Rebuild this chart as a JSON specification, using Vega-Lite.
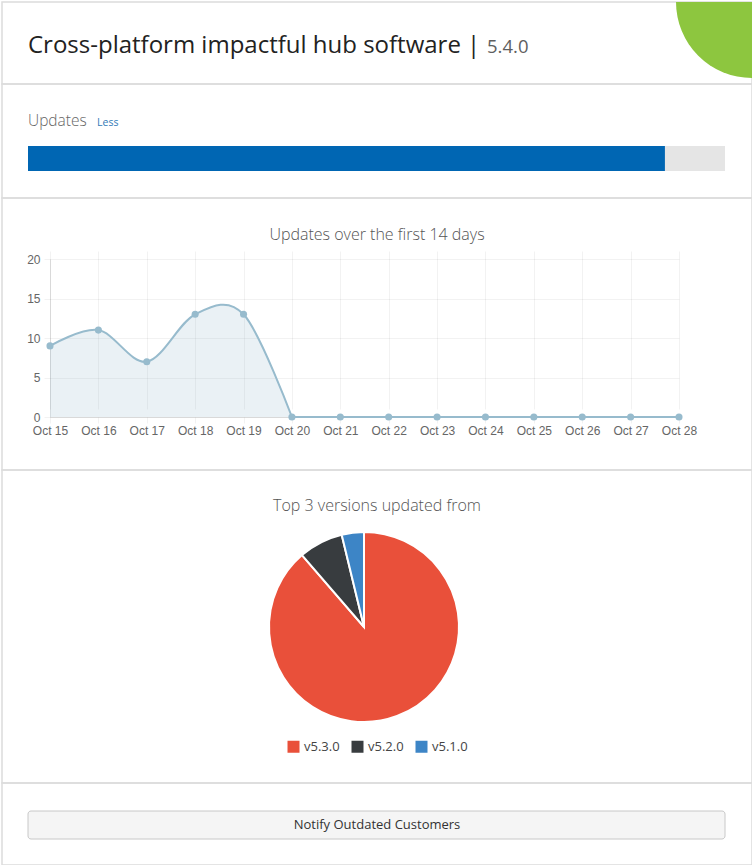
{
  "$schema": "https://vega.github.io/schema/vega-lite/v6.json",
  "padding": 1,
  "spacing": 0,
  "bounds": "flush",
  "background": "white",
  "resolve": {"scale": {"color": "independent"}, "legend": {"color": "independent"}},
  "vconcat": [
    {
      "width": 750,
      "height": 82,
      "view": {"stroke": "#dcdcdc", "strokeWidth": 1.5},
      "data": {"values": [{"product": "Cross-platform impactful hub software |", "version": "5.4.0"}]},
      "layer": [
        {
          "mark": {"type": "arc", "radius": 76, "theta": 0, "theta2": 6.2832, "color": "#8dc63f", "x": {"expr": "width"}, "y": 0, "clip": true},
          "encoding": {}
        },
        {
          "mark": {"type": "text", "x": 26, "y": 51, "align": "left", "baseline": "alphabetic", "fontSize": 24, "color": "#222"},
          "encoding": {"text": {"field": "product"}}
        },
        {
          "mark": {"type": "text", "x": 485, "y": 51, "align": "left", "baseline": "alphabetic", "fontSize": 18.5, "color": "#5f5f5f"},
          "encoding": {"text": {"field": "version"}}
        }
      ]
    },
    {
      "width": 750,
      "height": 114,
      "view": {"stroke": "#dcdcdc", "strokeWidth": 1.5},
      "data": {"values": [{"label": "Updates", "toggle": "Less", "updated": 53, "total": 58}]},
      "layer": [
        {
          "mark": {"type": "text", "x": 26, "y": 42, "align": "left", "baseline": "alphabetic", "fontSize": 15.5, "fontWeight": 300, "color": "#666"},
          "encoding": {"text": {"field": "label"}}
        },
        {
          "mark": {"type": "text", "x": 95, "y": 42, "align": "left", "baseline": "alphabetic", "fontSize": 10.5, "color": "#337ab7"},
          "encoding": {"text": {"field": "toggle"}}
        },
        {
          "mark": {"type": "rect", "color": "#e5e5e5"},
          "encoding": {
            "x": {"field": "total", "type": "quantitative", "scale": {"domain": [0, 58], "range": [26, 723], "nice": false}, "axis": null},
            "x2": {"datum": 0},
            "y": {"value": 62},
            "y2": {"value": 87}
          }
        },
        {
          "mark": {"type": "rect", "color": "#0066b3"},
          "encoding": {
            "x": {"field": "updated", "type": "quantitative", "scale": {"domain": [0, 58], "range": [26, 723], "nice": false}, "axis": null},
            "x2": {"datum": 0},
            "y": {"value": 62},
            "y2": {"value": 87}
          }
        }
      ]
    },
    {
      "width": 750,
      "height": 272,
      "view": {"stroke": "#dcdcdc", "strokeWidth": 1.5},
      "title": {"text": "Updates over the first 14 days", "offset": -45, "anchor": "middle", "frame": "group", "font": "Open Sans", "fontSize": 16, "fontWeight": 300, "color": "#555"},
      "data": {
        "values": [
          {"day": "Oct 15", "updates": 9},
          {"day": "Oct 16", "updates": 11},
          {"day": "Oct 17", "updates": 7},
          {"day": "Oct 18", "updates": 13},
          {"day": "Oct 19", "updates": 13},
          {"day": "Oct 20", "updates": 0},
          {"day": "Oct 21", "updates": 0},
          {"day": "Oct 22", "updates": 0},
          {"day": "Oct 23", "updates": 0},
          {"day": "Oct 24", "updates": 0},
          {"day": "Oct 25", "updates": 0},
          {"day": "Oct 26", "updates": 0},
          {"day": "Oct 27", "updates": 0},
          {"day": "Oct 28", "updates": 0}
        ]
      },
      "encoding": {
        "x": {
          "field": "day",
          "type": "ordinal",
          "sort": null,
          "scale": {
            "domain": ["Oct 15", "Oct 16", "Oct 17", "Oct 18", "Oct 19", "Oct 20", "Oct 21", "Oct 22", "Oct 23", "Oct 24", "Oct 25", "Oct 26", "Oct 27", "Oct 28"],
            "range": [48, 677],
            "padding": 0
          },
          "axis": {
            "offset": -53, "title": null, "labelAngle": 0, "grid": true,
            "gridColor": "#000", "gridOpacity": 0.05,
            "tickSize": 6, "tickColor": "#000", "tickOpacity": 0.05,
            "domainColor": "#000", "domainOpacity": 0.1,
            "labelPadding": 2, "labelFont": "Liberation Sans", "labelFontSize": 12, "labelColor": "#666"
          }
        },
        "y": {
          "field": "updates",
          "type": "quantitative",
          "scale": {"domain": [0, 20], "range": [219, 61], "nice": false},
          "axis": {
            "offset": -48, "title": null, "values": [0, 5, 10, 15, 20], "grid": true,
            "gridColor": "#000", "gridOpacity": 0.05,
            "tickSize": 6, "tickColor": "#000", "tickOpacity": 0.05,
            "domainColor": "#000", "domainOpacity": 0.1,
            "labelPadding": 4, "labelFont": "Liberation Sans", "labelFontSize": 12, "labelColor": "#666"
          }
        }
      },
      "layer": [
        {
          "transform": [{"filter": {"field": "day", "oneOf": ["Oct 15", "Oct 16", "Oct 17", "Oct 18", "Oct 19", "Oct 20"]}}],
          "mark": {"type": "area", "interpolate": "cardinal", "color": "#97bbcd", "opacity": 0.2}
        },
        {
          "transform": [{"filter": {"field": "day", "oneOf": ["Oct 15", "Oct 16", "Oct 17", "Oct 18", "Oct 19", "Oct 20"]}}],
          "mark": {"type": "line", "interpolate": "cardinal", "color": "#97bbcd", "strokeWidth": 2}
        },
        {
          "transform": [{"filter": {"field": "day", "oneOf": ["Oct 20", "Oct 21", "Oct 22", "Oct 23", "Oct 24", "Oct 25", "Oct 26", "Oct 27", "Oct 28"]}}],
          "mark": {"type": "line", "color": "#97bbcd", "strokeWidth": 2}
        },
        {
          "mark": {"type": "point", "filled": true, "color": "#97bbcd", "size": 50, "opacity": 1}
        }
      ]
    },
    {
      "width": 750,
      "height": 313,
      "view": {"stroke": "#dcdcdc", "strokeWidth": 1.5},
      "title": {"text": "Top 3 versions updated from", "offset": -44, "anchor": "middle", "frame": "group", "font": "Open Sans", "fontSize": 16, "fontWeight": 300, "color": "#555"},
      "data": {
        "values": [
          {"version": "v5.3.0", "count": 47},
          {"version": "v5.2.0", "count": 4},
          {"version": "v5.1.0", "count": 2}
        ]
      },
      "mark": {"type": "arc", "radius": 95, "stroke": "#fff", "strokeWidth": 2, "x": 362, "y": 157},
      "encoding": {
        "theta": {"field": "count", "type": "quantitative", "stack": true},
        "order": {"field": "count", "sort": "descending"},
        "color": {
          "field": "version",
          "type": "nominal",
          "scale": {"domain": ["v5.3.0", "v5.2.0", "v5.1.0"], "range": ["#e9503a", "#383c3f", "#3d85c6"]},
          "legend": {
            "title": null, "orient": "none", "direction": "horizontal",
            "legendX": 285, "legendY": 270, "padding": 0,
            "symbolType": "square", "symbolSize": 144, "symbolStrokeWidth": 0, "symbolOpacity": 1,
            "labelFont": "Open Sans", "labelFontSize": 13, "labelColor": "#444",
            "labelOffset": 4, "columnPadding": 11
          }
        }
      }
    },
    {
      "width": 750,
      "height": 82,
      "view": {"stroke": "#dcdcdc", "strokeWidth": 1.5},
      "data": {"values": [{"action": "Notify Outdated Customers"}]},
      "layer": [
        {
          "mark": {"type": "rect", "x": 26, "x2": 723, "y": 28, "y2": 56, "fill": "#f5f5f5", "stroke": "#c8c8c8", "strokeWidth": 1, "cornerRadius": 3},
          "encoding": {}
        },
        {
          "mark": {"type": "text", "x": {"expr": "width / 2"}, "y": 42, "baseline": "middle", "fontSize": 13, "color": "#333"},
          "encoding": {"text": {"field": "action"}}
        }
      ]
    }
  ],
  "config": {
    "view": {"stroke": "#dcdcdc", "strokeWidth": 1.5},
    "font": "Open Sans",
    "text": {"font": "Open Sans"}
  }
}
